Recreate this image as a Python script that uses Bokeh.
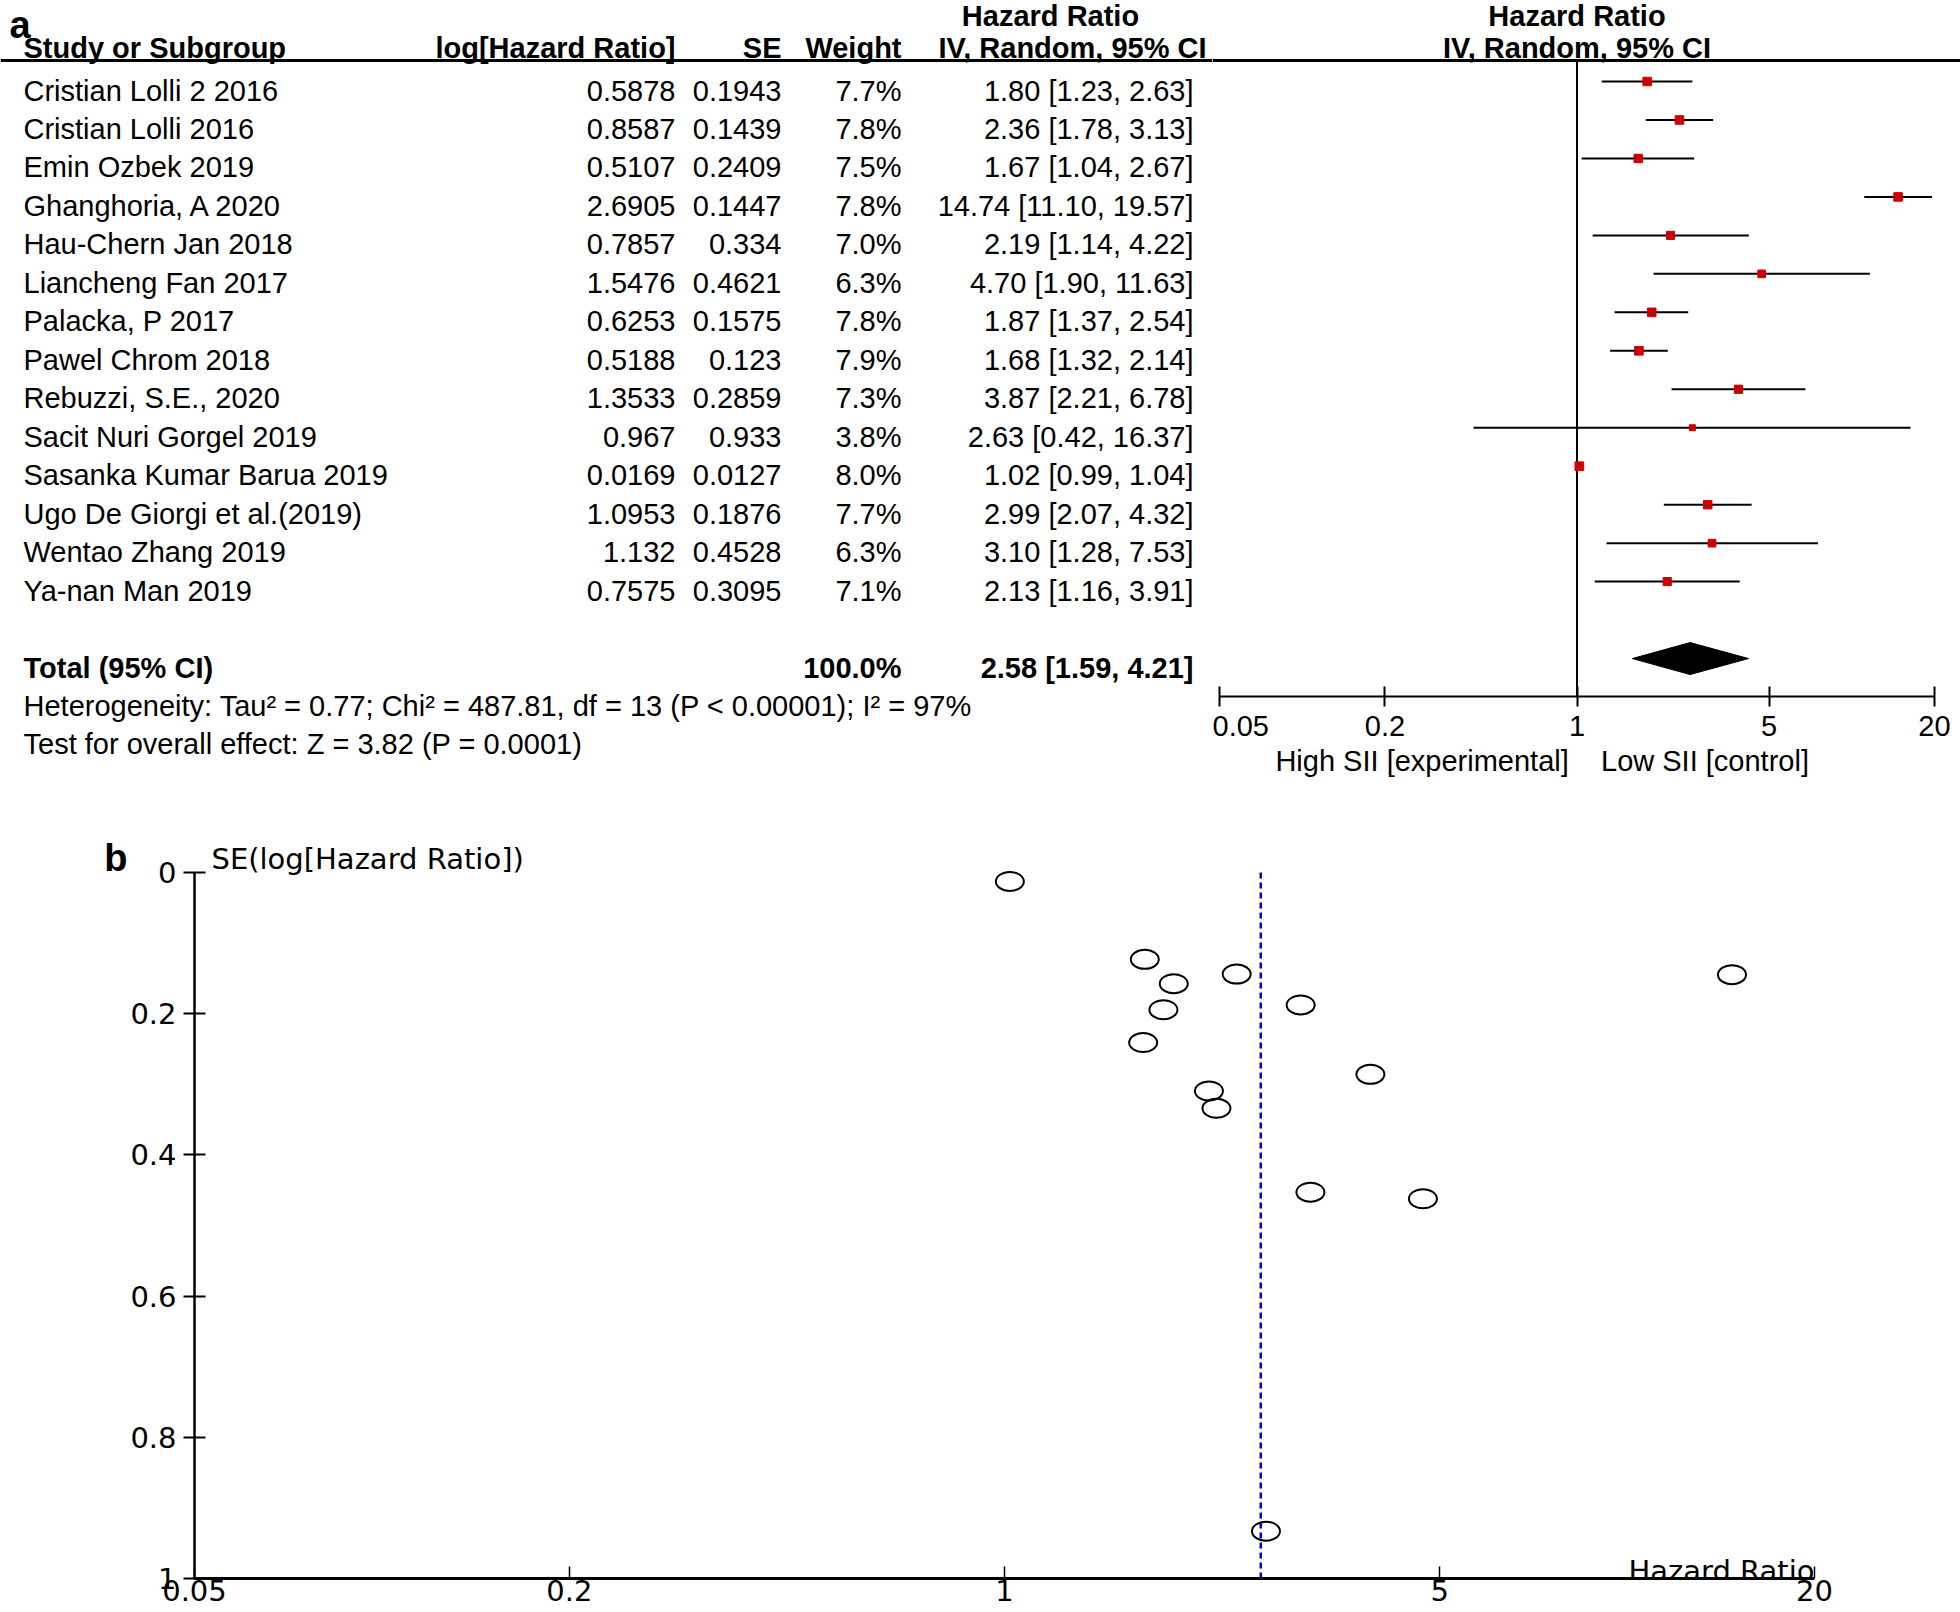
from math import log10
from bokeh.plotting import figure
from bokeh.models import ColumnDataSource, Range1d, Span, FixedTicker, LinearAxis
from bokeh.layouts import column, row
from bokeh.core.properties import value
from bokeh.embed import file_html
from bokeh.resources import INLINE

# ---------------- data ----------------
studies = ["Cristian Lolli 2 2016", "Cristian Lolli 2016", "Emin Ozbek 2019", "Ghanghoria, A 2020",
           "Hau-Chern Jan 2018", "Liancheng Fan 2017", "Palacka, P 2017", "Pawel Chrom 2018",
           "Rebuzzi, S.E., 2020", "Sacit Nuri Gorgel 2019", "Sasanka Kumar Barua 2019",
           "Ugo De Giorgi et al.(2019)", "Wentao Zhang 2019", "Ya-nan Man 2019"]
log_hr = [0.5878, 0.8587, 0.5107, 2.6905, 0.7857, 1.5476, 0.6253, 0.5188, 1.3533, 0.967,
          0.0169, 1.0953, 1.132, 0.7575]
se = [0.1943, 0.1439, 0.2409, 0.1447, 0.334, 0.4621, 0.1575, 0.123, 0.2859, 0.933,
      0.0127, 0.1876, 0.4528, 0.3095]
weight = [7.7, 7.8, 7.5, 7.8, 7.0, 6.3, 7.8, 7.9, 7.3, 3.8, 8.0, 7.7, 6.3, 7.1]
hr = [1.80, 2.36, 1.67, 14.74, 2.19, 4.70, 1.87, 1.68, 3.87, 2.63, 1.02, 2.99, 3.10, 2.13]
ci_lo = [1.23, 1.78, 1.04, 11.10, 1.14, 1.90, 1.37, 1.32, 2.21, 0.42, 0.99, 2.07, 1.28, 1.16]
ci_hi = [2.63, 3.13, 2.67, 19.57, 4.22, 11.63, 2.54, 2.14, 6.78, 16.37, 1.04, 4.32, 7.53, 3.91]
total_weight = 100.0
total_hr, total_lo, total_hi = 2.58, 1.59, 4.21
heterogeneity = "Heterogeneity: Tau\u00b2 = 0.77; Chi\u00b2 = 487.81, df = 13 (P < 0.00001); I\u00b2 = 97%"
overall_effect = "Test for overall effect: Z = 3.82 (P = 0.0001)"
hr_ticks = [0.05, 0.2, 1, 5, 20]
hr_tick_labels = ["0.05", "0.2", "1", "5", "20"]
se_ticks = [0, 0.2, 0.4, 0.6, 0.8, 1]
se_tick_labels = ["0", "0.2", "0.4", "0.6", "0.8", "1"]
left_favours = "High SII [experimental]"
right_favours = "Low SII [control]"

# ---------------- layout constants ----------------
FONT_NAME = "Liberation Sans"
FONT = value(FONT_NAME)
FONT_B_NAME = "DejaVu Sans"
FONT_B = value(FONT_B_NAME)
FS = "29px"
FS_B = "29px"
PAGE_W = 1960
TOP_H = 780
BOT_H = 832
TABLE_W = 1212
FOREST_W = PAGE_W - TABLE_W
ROW_PX = 38.47
NB = "\u00a0"


def t_row(py):
    return 1 + (py - 90) / ROW_PX


def f_row(py):
    return 1 + (py - 81) / ROW_PX


rows = list(range(1, len(studies) + 1))
TOTAL_ROW = len(studies) + 2
HET_ROW = TOTAL_ROW + 1
TEST_ROW = TOTAL_ROW + 2


def no_align(f):
    try:
        f.frame_align = False
    except Exception:
        pass


# ---------------- table (left part of panel a) ----------------
tbl = figure(width=TABLE_W, height=TOP_H, x_range=Range1d(0, TABLE_W),
             y_range=Range1d(t_row(TOP_H), t_row(0)), output_backend="svg",
             toolbar_location=None, min_border=0, x_axis_location=None,
             y_axis_location=None, outline_line_color=None)
tbl.grid.visible = False
no_align(tbl)

src = ColumnDataSource(dict(
    row=rows,
    name=studies,
    lhr=[str(v) for v in log_hr],
    se=[str(v) for v in se],
    w=["%.1f%%" % v for v in weight],
    ci=["%.2f [%.2f, %.2f]" % (h, l, u) for h, l, u in zip(hr, ci_lo, ci_hi)],
))

common = dict(text_font=FONT, text_font_size=FS, text_color="black", text_baseline="middle")
tbl.text(x=23, y="row", text="name", source=src, text_align="left", **common)
tbl.text(x=675, y="row", text="lhr", source=src, text_align="right", **common)
tbl.text(x=781, y="row", text="se", source=src, text_align="right", **common)
tbl.text(x=901, y="row", text="w", source=src, text_align="right", **common)
tbl.text(x=1193, y="row", text="ci", source=src, text_align="right", **common)

hy1 = t_row(15)
hy2 = t_row(47)
bold = dict(common, text_font_style="bold")
tbl.text(x=[23], y=[hy2], text=["Study or Subgroup"], text_align="left", **bold)
tbl.text(x=[675], y=[hy2], text=["log[Hazard Ratio]"], text_align="right", **bold)
tbl.text(x=[781], y=[hy2], text=["SE"], text_align="right", **bold)
tbl.text(x=[901], y=[hy2], text=["Weight"], text_align="right", **bold)
tbl.text(x=[1072], y=[hy2], text=["IV, Random, 95% CI"], text_align="center", **bold)
tbl.text(x=[1050], y=[hy1], text=["Hazard Ratio"], text_align="center", **bold)

tbl.text(x=[23], y=[TOTAL_ROW], text=["Total (95% CI)"], text_align="left", **bold)
tbl.text(x=[901], y=[TOTAL_ROW], text=["%.1f%%" % total_weight], text_align="right", **bold)
tbl.text(x=[1193], y=[TOTAL_ROW], text=["%.2f [%.2f, %.2f]" % (total_hr, total_lo, total_hi)],
         text_align="right", **bold)
tbl.text(x=[23], y=[HET_ROW], text=[heterogeneity], text_align="left", **common)
tbl.text(x=[23], y=[TEST_ROW], text=[overall_effect], text_align="left", **common)

tbl.text(x=[9], y=[t_row(24)], text=["a"], text_font=FONT, text_font_size="38px",
         text_font_style="bold", text_baseline="alphabetic", text_align="left", text_color="black")
tbl.add_layout(Span(location=t_row(60), dimension="width", line_color="black", line_width=3))

# ---------------- forest plot (right part of panel a) ----------------
PXD = (1934 - 1219) / (log10(20) - log10(0.05))
fx0 = 10 ** (log10(0.05) - (1219 - TABLE_W) / PXD)
fx1 = 10 ** (log10(20) + (PAGE_W - 1934) / PXD)

fst = figure(width=FOREST_W, height=TOP_H, x_axis_type="log", x_range=Range1d(fx0, fx1),
             y_range=Range1d(f_row(696), f_row(0)), output_backend="svg",
             toolbar_location=None, min_border=0, min_border_bottom=TOP_H - 696,
             y_axis_location=None, outline_line_color=None)
fst.grid.visible = False
no_align(fst)

fsrc = ColumnDataSource(dict(row=rows, hr=hr, lo=ci_lo, hi=ci_hi,
                             size=[8.5 * (w / 7.7) ** 0.5 for w in weight]))
fst.segment(x0=[1], y0=[f_row(60)], x1=[1], y1=[f_row(696)], line_color="black", line_width=2)
fst.segment(x0="lo", y0="row", x1="hi", y1="row", source=fsrc, line_color="black", line_width=2)
fst.scatter(x="hr", y="row", size="size", marker="square", source=fsrc,
            fill_color="#CC0000", line_color="#CC0000")
dh = 16 / ROW_PX
fst.patch(x=[total_lo, total_hr, total_hi, total_hr],
          y=[TOTAL_ROW, TOTAL_ROW - dh, TOTAL_ROW, TOTAL_ROW + dh],
          fill_color="black", line_color="black")
fst.add_layout(Span(location=f_row(60), dimension="width", line_color="black", line_width=3))
fst.text(x=[1], y=[f_row(15)], text=["Hazard Ratio"], text_align="center", **bold)
fst.text(x=[1], y=[f_row(47)], text=["IV, Random, 95% CI"], text_align="center", **bold)

ax = fst.xaxis[0]
ax.ticker = FixedTicker(ticks=hr_ticks, minor_ticks=[])
ax.bounds = (hr_ticks[0], hr_ticks[-1])
ax.major_label_overrides = {t: l for t, l in zip(hr_ticks, hr_tick_labels)}
ax.major_tick_in = 10
ax.major_tick_out = 10
ax.axis_line_width = 2
ax.major_tick_line_width = 2
ax.minor_tick_line_color = None
ax.major_label_text_font = FONT_NAME
ax.major_label_text_font_size = FS
ax.major_label_text_color = "black"
ax.major_label_standoff = 9
ax.axis_label = left_favours + NB * 4 + right_favours + NB * 11
ax.axis_label_text_font = FONT_NAME
ax.axis_label_text_font_size = FS
ax.axis_label_text_font_style = "normal"
ax.axis_label_text_color = "black"
ax.axis_label_standoff = 6

# ---------------- funnel plot (panel b) ----------------
BX0, BX1 = 194, 1814
PXD_B = (BX1 - BX0) / (log10(20) - log10(0.05))
bx_end = 10 ** (log10(20) + (PAGE_W - BX1) / PXD_B)
AXIS_Y = 1578
BOT_BORDER = TOP_H + BOT_H - AXIS_Y
y_top = -(872 - TOP_H) / (AXIS_Y - 872)

fun = figure(width=PAGE_W, height=BOT_H, x_axis_type="log", x_range=Range1d(0.05, bx_end),
             y_range=Range1d(1, y_top), output_backend="svg", toolbar_location=None,
             min_border=0, min_border_left=BX0, min_border_bottom=BOT_BORDER,
             outline_line_color=None)
fun.grid.visible = False

fun.segment(x0=[total_hr], y0=[0], x1=[total_hr], y1=[1], line_color="#0000CC",
            line_width=2.5, line_dash="6 4")
fun.ellipse(x=hr, y=se, width=28, height=19, width_units="screen", height_units="screen",
            fill_color=None, line_color="black", line_width=2)
fun.text(x=[0.05], y=[0], text=["SE(log[Hazard Ratio])"], x_offset=17, y_offset=-14,
         text_align="left", text_baseline="middle", text_font=FONT_B, text_font_size=FS_B,
         text_color="black")
fun.text(x=[20], y=[1], text=["Hazard Ratio"], y_offset=-8, text_align="right",
         text_baseline="alphabetic", text_font=FONT_B, text_font_size=FS_B, text_color="black")

xa = fun.xaxis[0]
xa.ticker = FixedTicker(ticks=hr_ticks, minor_ticks=[])
xa.bounds = (hr_ticks[0], hr_ticks[-1])
xa.major_label_overrides = {t: l for t, l in zip(hr_ticks, hr_tick_labels)}
xa.major_tick_in = 12
xa.major_tick_out = 0
xa.axis_line_width = 3
xa.major_tick_line_width = 1.5
xa.minor_tick_line_color = None
xa.major_label_text_font = FONT_B_NAME
xa.major_label_text_font_size = FS_B
xa.major_label_text_color = "black"
xa.major_label_standoff = 1

ya = fun.yaxis[0]
ya.ticker = FixedTicker(ticks=se_ticks, minor_ticks=[])
ya.bounds = (se_ticks[0], se_ticks[-1])
ya.major_label_overrides = {t: l for t, l in zip(se_ticks, se_tick_labels)}
ya.major_tick_in = 11
ya.major_tick_out = 11
ya.axis_line_width = 2.5
ya.major_tick_line_width = 2
ya.minor_tick_line_color = None
ya.major_label_text_font = FONT_B_NAME
ya.major_label_text_font_size = FS_B
ya.major_label_text_color = "black"
ya.major_label_standoff = 7

# panel letter "b" as an outer left axis label at the top of the SE axis
B_POS = -0.02
bax = LinearAxis(ticker=FixedTicker(ticks=[B_POS], minor_ticks=[]),
                 major_label_overrides={B_POS: "b"})
bax.axis_line_color = None
bax.major_tick_line_color = None
bax.minor_tick_line_color = None
bax.major_tick_in = 0
bax.major_tick_out = 0
bax.major_label_standoff = 0
bax.major_label_text_font = FONT_NAME
bax.major_label_text_font_size = "38px"
bax.major_label_text_font_style = "bold"
bax.major_label_text_color = "black"
fun.add_layout(bax, "left")

layout = column(row(tbl, fst), fun)
open("out.html", "w").write(file_html(layout, INLINE))
